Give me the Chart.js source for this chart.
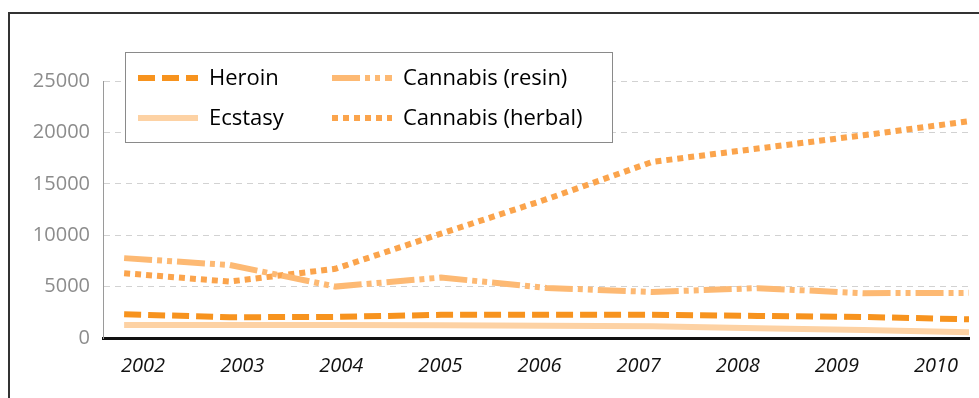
<!DOCTYPE html>
<html>
<head>
<meta charset="utf-8">
<script src="https://cdn.jsdelivr.net/npm/chart.js@4"></script>
<style>
  body { margin: 0; background: #fff; }
  .wrap { position: relative; width: 979px; height: 398px; overflow: hidden; }
  .frame { position: absolute; left: 8px; top: 12px; width: 990px; height: 400px;
           border-left: 2px solid #333; border-top: 2px solid #333; pointer-events: none; }
</style>
</head>
<body>
<div class="wrap">
  <canvas id="myChart" width="979" height="398"></canvas>
  <div class="frame"></div>
</div>
<script>
// data
const years = [2002, 2003, 2004, 2005, 2006, 2007, 2008, 2009, 2010];
const tickLabels = ['2002', '2003', '2004', '2005', '2006', '2007', '2008', '2009', '2010'];
const heroin = [2310, 2020, 2050, 2250, 2250, 2250, 2150, 2050, 1820];
const ecstasy = [1270, 1270, 1270, 1250, 1200, 1150, 950, 780, 560];
const resin = [7770, 7100, 5000, 5880, 4870, 4480, 4850, 4360, 4390];
const herbal = [6300, 5490, 6730, 10150, 13500, 17130, 18430, 19720, 21090];

function pts(arr) {
    return arr.map(function (v, i) { return {x: years[i], y: v}; });
}

const series = [
    {label: 'Heroin', data: heroin, color: '#f7931e', dash: [17, 7]},
    {label: 'Ecstasy', data: ecstasy, color: '#fdd2a4', dash: []},
    {label: 'Cannabis (resin)', data: resin, color: '#fdb973', dash: [28, 5, 5, 5, 5, 5]},
    {label: 'Cannabis (herbal)', data: herbal, color: '#fba44c', dash: [6, 5]}
];

// legend drawn in a box, two columns
const boxLegend = {
    id: 'boxLegend',
    afterDatasetsDraw: function (chart) {
        let ctx = chart.ctx;
        ctx.save();
        ctx.fillStyle = '#fff';
        ctx.fillRect(125.5, 52.5, 487, 90);
        ctx.strokeStyle = '#8a8a8a';
        ctx.lineWidth = 1;
        ctx.strokeRect(125.5, 52.5, 487, 90);
        const slots = [[138, 78], [138, 118], [332, 78], [332, 118]];
        series.forEach(function (s, i) {
            let x = slots[i][0], y = slots[i][1];
            ctx.beginPath();
            ctx.strokeStyle = s.color;
            ctx.lineWidth = 6;
            ctx.setLineDash(s.dash);
            ctx.moveTo(x, y);
            ctx.lineTo(x + 60, y);
            ctx.stroke();
            ctx.setLineDash([]);
            ctx.fillStyle = '#000';
            ctx.font = '500 22px "Open Sans"';
            ctx.textBaseline = 'middle';
            ctx.fillText(s.label, x + 71, y + 1);
        });
        ctx.restore();
    }
};

let ctx = document.getElementById('myChart').getContext('2d');
let chart = new Chart(ctx, {
    type: 'line',
    data: {
        datasets: series.map(function (s) {
            return {
                label: s.label,
                data: pts(s.data),
                borderColor: s.color,
                backgroundColor: s.color,
                borderWidth: 6,
                borderDash: s.dash,
                pointRadius: 0,
                tension: 0,
                xAxisID: 'xd',
                yAxisID: 'y'
            };
        })
    },
    options: {
        responsive: false,
        animation: false,
        layout: {padding: {left: 0, right: 10, top: 81, bottom: 0}},
        plugins: {legend: {display: false}, tooltip: {enabled: false}},
        scales: {
            x: {
                type: 'linear',
                position: 'bottom',
                min: 2001.596,
                max: 2010.333,
                afterBuildTicks: function (s) {
                    s.ticks = years.map(function (v) { return {value: v}; });
                },
                afterFit: function (s) { s.height = 60; },
                grid: {display: false},
                border: {display: true, color: '#111', width: 3},
                ticks: {
                    color: '#111',
                    padding: 8,
                    maxRotation: 0,
                    autoSkip: false,
                    font: {family: '"Open Sans"', size: 20, style: 'italic'},
                    callback: function (v) {
                        let i = years.indexOf(v);
                        return i >= 0 ? tickLabels[i] : '';
                    }
                }
            },
            xd: {
                type: 'linear',
                display: false,
                position: 'bottom',
                min: 2001.8,
                max: 2010
            },
            y: {
                min: 0,
                max: 25000,
                afterFit: function (s) { s.width = 103; },
                grid: {color: '#d2d2d2', lineWidth: 1, drawTicks: false},
                border: {color: '#9a9a9a', width: 1, dash: [6, 5]},
                ticks: {
                    stepSize: 5000,
                    color: '#8c8c8c',
                    padding: 13,
                    font: {family: '"Open Sans"', size: 20},
                    callback: function (v) { return String(v); }
                }
            }
        }
    },
    plugins: [boxLegend]
});
</script>
</body>
</html>
